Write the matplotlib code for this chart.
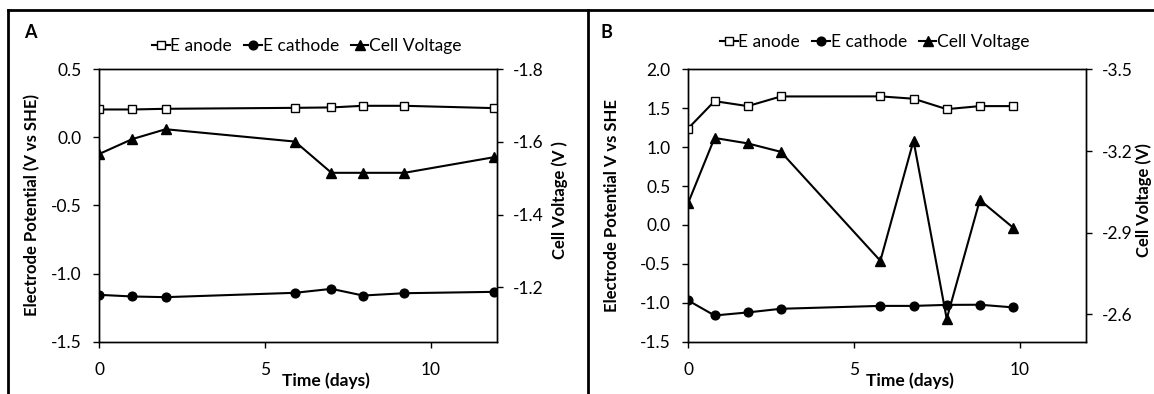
import numpy as np
import matplotlib
matplotlib.use("Agg")
import matplotlib.pyplot as plt
from matplotlib.lines import Line2D

plt.rcParams['font.family'] = ['Lato', 'DejaVu Sans']

# %% data - panel A
days_a = [0, 1, 2, 5.9, 7, 7.95, 9.2, 11.9]
anode_a = [0.205, 0.205, 0.21, 0.217, 0.22, 0.232, 0.232, 0.215]
cathode_a = [-1.156, -1.168, -1.173, -1.141, -1.112, -1.161, -1.144, -1.134]
cell_a = [-1.567, -1.608, -1.635, -1.601, -1.515, -1.515, -1.515, -1.558]

# %% data - panel B
days_b = [0, 0.8, 1.8, 2.8, 5.8, 6.8, 7.8, 8.8, 9.8]
anode_b = [1.238, 1.591, 1.527, 1.651, 1.652, 1.622, 1.488, 1.527, 1.527]
cathode_b = [-0.969, -1.163, -1.124, -1.077, -1.040, -1.040, -1.027, -1.025, -1.059]
cell_b = [-3.008, -3.248, -3.228, -3.197, -2.797, -3.238, -2.584, -3.020, -2.919]

left_ticks_a = [0.5, 0.0, -0.5, -1.0, -1.5]
right_ticks_a = [-1.8, -1.6, -1.4, -1.2]
left_ticks_b = [2.0, 1.5, 1.0, 0.5, 0.0, -0.5, -1.0, -1.5]
right_ticks_b = [-3.5, -3.2, -2.9, -2.6]
x_ticks = [0, 5, 10]

W, H = 1154, 394
fig = plt.figure(figsize=(W / 100, H / 100), dpi=100)

FS = 12.5     # tick labels / legend
LFS = 12      # y axis titles
XFS = 12.5    # x axis title
LW = 1.5


def px(x, y):
    return x / W, 1 - y / H


def draw_panel(left, days, anode, cathode, cell, lticks, rticks, lylim, rylim,
               ylabel, ylabel_x, rlabel, rlabel_x, letter, letter_x,
               leg_cx, leg_y, xlab_cx):
    x0, y1 = px(left, 69.3)
    x1, y0 = px(left + 398, 341.7)
    ax = fig.add_axes([x0, y0, x1 - x0, y1 - y0])
    ax2 = ax.twinx()

    ax.plot(days, anode, color='black', lw=LW, marker='s', ms=6,
            mfc='white', mec='black', mew=1.0, zorder=3)
    ax.plot(days, cathode, color='black', lw=LW, marker='o', ms=6.3,
            mfc='black', mec='black', zorder=3)
    ax2.plot(days, cell, color='black', lw=LW, marker='^', ms=7,
             mfc='black', mec='black')

    ax.set_xlim(0, 12)
    ax.set_ylim(*lylim)
    ax2.set_ylim(*rylim)
    ax.set_xticks(x_ticks)
    ax.set_yticks(lticks)
    ax.set_yticklabels([f'{t:.1f}' for t in lticks])
    ax2.set_yticks(rticks)
    ax2.set_yticklabels([f'{t:.1f}' for t in rticks])

    for a in (ax, ax2):
        for s in a.spines.values():
            s.set_linewidth(1.0)
    ax.tick_params(axis='y', direction='out', length=4.5, width=1.0, pad=8, labelsize=FS)
    ax.tick_params(axis='x', direction='out', length=4.5, width=1.0, pad=10, labelsize=FS)
    ax2.tick_params(axis='y', direction='out', length=4.5, width=1.0, pad=7, labelsize=FS)

    fig.text(*px(ylabel_x, 205), ylabel, rotation=90, ha='center', va='center',
             fontsize=LFS, fontweight='bold')
    fig.text(*px(rlabel_x, 200), rlabel, rotation=90, ha='center', va='center',
             fontsize=LFS, fontweight='bold')
    fig.text(*px(xlab_cx, 381), 'Time (days)', ha='center', va='center',
             fontsize=XFS, fontweight='bold')
    fig.text(*px(letter_x, 32), letter, ha='center', va='center',
             fontsize=13, fontweight='bold')

    handles = [
        Line2D([], [], color='black', lw=LW, marker='s', ms=6, mfc='white', mec='black'),
        Line2D([], [], color='black', lw=LW, marker='o', ms=6.3, mfc='black'),
        Line2D([], [], color='black', lw=LW, marker='^', ms=7, mfc='black'),
    ]
    fig.legend(handles, ['E anode', 'E cathode', 'Cell Voltage'], ncol=3,
               loc='center', bbox_to_anchor=px(leg_cx, leg_y), frameon=False,
               fontsize=FS, handlelength=1.0, handletextpad=0.05,
               columnspacing=0.7, borderpad=0)
    return ax, ax2


draw_panel(99.3, days_a, anode_a, cathode_a, cell_a, left_ticks_a, right_ticks_a,
           (-1.5, 0.5), (-1.05, -1.8), 'Electrode Potential (V vs SHE)', 32,
           'Cell Voltage (V )', 560, 'A', 30, 307, 46, 326)
draw_panel(688, days_b, anode_b, cathode_b, cell_b, left_ticks_b, right_ticks_b,
           (-1.5, 2.0), (-2.5, -3.5), 'Electrode Potential V vs SHE', 612,
           'Cell Voltage (V)', 1144, 'B', 606, 875, 42, 910)

# panel frame lines
fig.add_artist(Line2D([8 / W, 1], [1 - 10 / H, 1 - 10 / H], color='black', lw=2))
fig.add_artist(Line2D([8 / W, 8 / W], [0, 1 - 10 / H], color='black', lw=2))
fig.add_artist(Line2D([587.5 / W, 587.5 / W], [0, 1 - 10 / H], color='black', lw=2))

fig.savefig('out.png', dpi=100)
